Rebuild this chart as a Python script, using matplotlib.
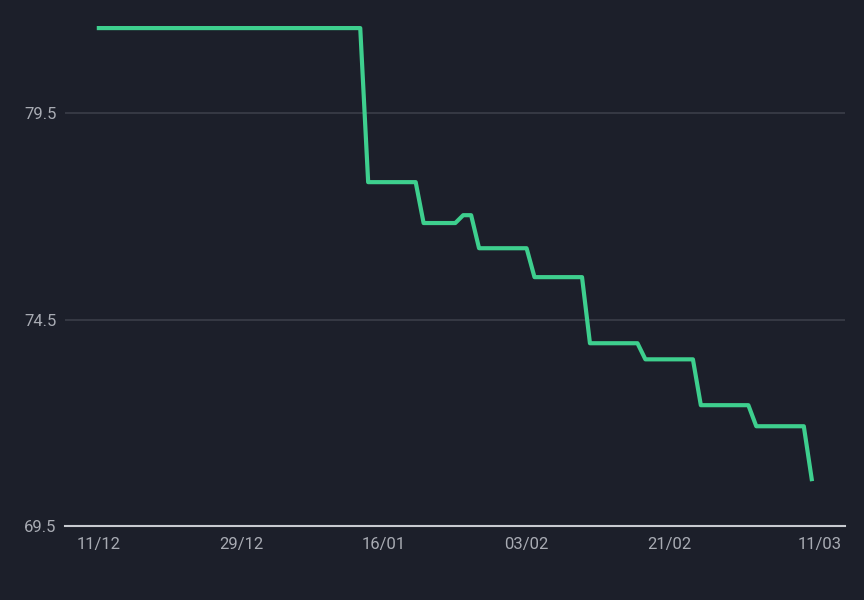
import numpy as np
import pandas as pd
import matplotlib.pyplot as plt
import matplotlib.dates as mdates

plt.rcParams['font.family'] = ['Roboto', 'DejaVu Sans']

# breakpoints of the step-like series
dates = ['2023-12-11', '2024-01-13', '2024-01-14', '2024-01-20', '2024-01-21', '2024-01-25',
         '2024-01-26', '2024-01-27', '2024-01-28', '2024-02-03', '2024-02-04', '2024-02-10',
         '2024-02-11', '2024-02-17', '2024-02-18', '2024-02-24', '2024-02-25', '2024-03-02',
         '2024-03-03', '2024-03-09', '2024-03-10']
values = [81.56, 81.56, 77.83, 77.83, 76.84, 76.84,
          77.03, 77.03, 76.23, 76.23, 75.53, 75.53,
          73.93, 73.93, 73.54, 73.54, 72.43, 72.43,
          71.92, 71.92, 70.64]
tick_dates = ['2023-12-11', '2023-12-29', '2024-01-16', '2024-02-03', '2024-02-21', '2024-03-11']
y_ticks = [69.5, 74.5, 79.5]

bg = '#1c1f2a'
x = pd.to_datetime(dates)

fig = plt.figure(figsize=(8.64, 6.0), dpi=100, facecolor=bg)
ax = fig.add_axes([0.075, 0.123, 0.903, 0.877], facecolor=bg)
ax.plot(x, values, color='#3ecf8e', lw=3, solid_joinstyle='round')

ax.set_ylim(69.5, 82.24)
ax.set_xlim(pd.Timestamp('2023-12-11') - pd.Timedelta(days=4.3),
            pd.Timestamp('2023-12-11') + pd.Timedelta(days=94.2))
ax.set_yticks(y_ticks)
ax.set_yticklabels([f'{v:.1f}' for v in y_ticks])
ax.set_xticks(pd.to_datetime(tick_dates))
ax.xaxis.set_major_formatter(mdates.DateFormatter('%d/%m'))
ax.grid(axis='y', color='#3b3e49', lw=1.2)
ax.tick_params(colors='#a8abb3', labelsize=12, length=0, pad=8)
ax.tick_params(axis='y', pad=6)
for s in ['top', 'right', 'left']:
    ax.spines[s].set_visible(False)
ax.spines['bottom'].set_color('#c8cad0')
ax.spines['bottom'].set_linewidth(1.5)

fig.savefig('out.png', facecolor=bg)
